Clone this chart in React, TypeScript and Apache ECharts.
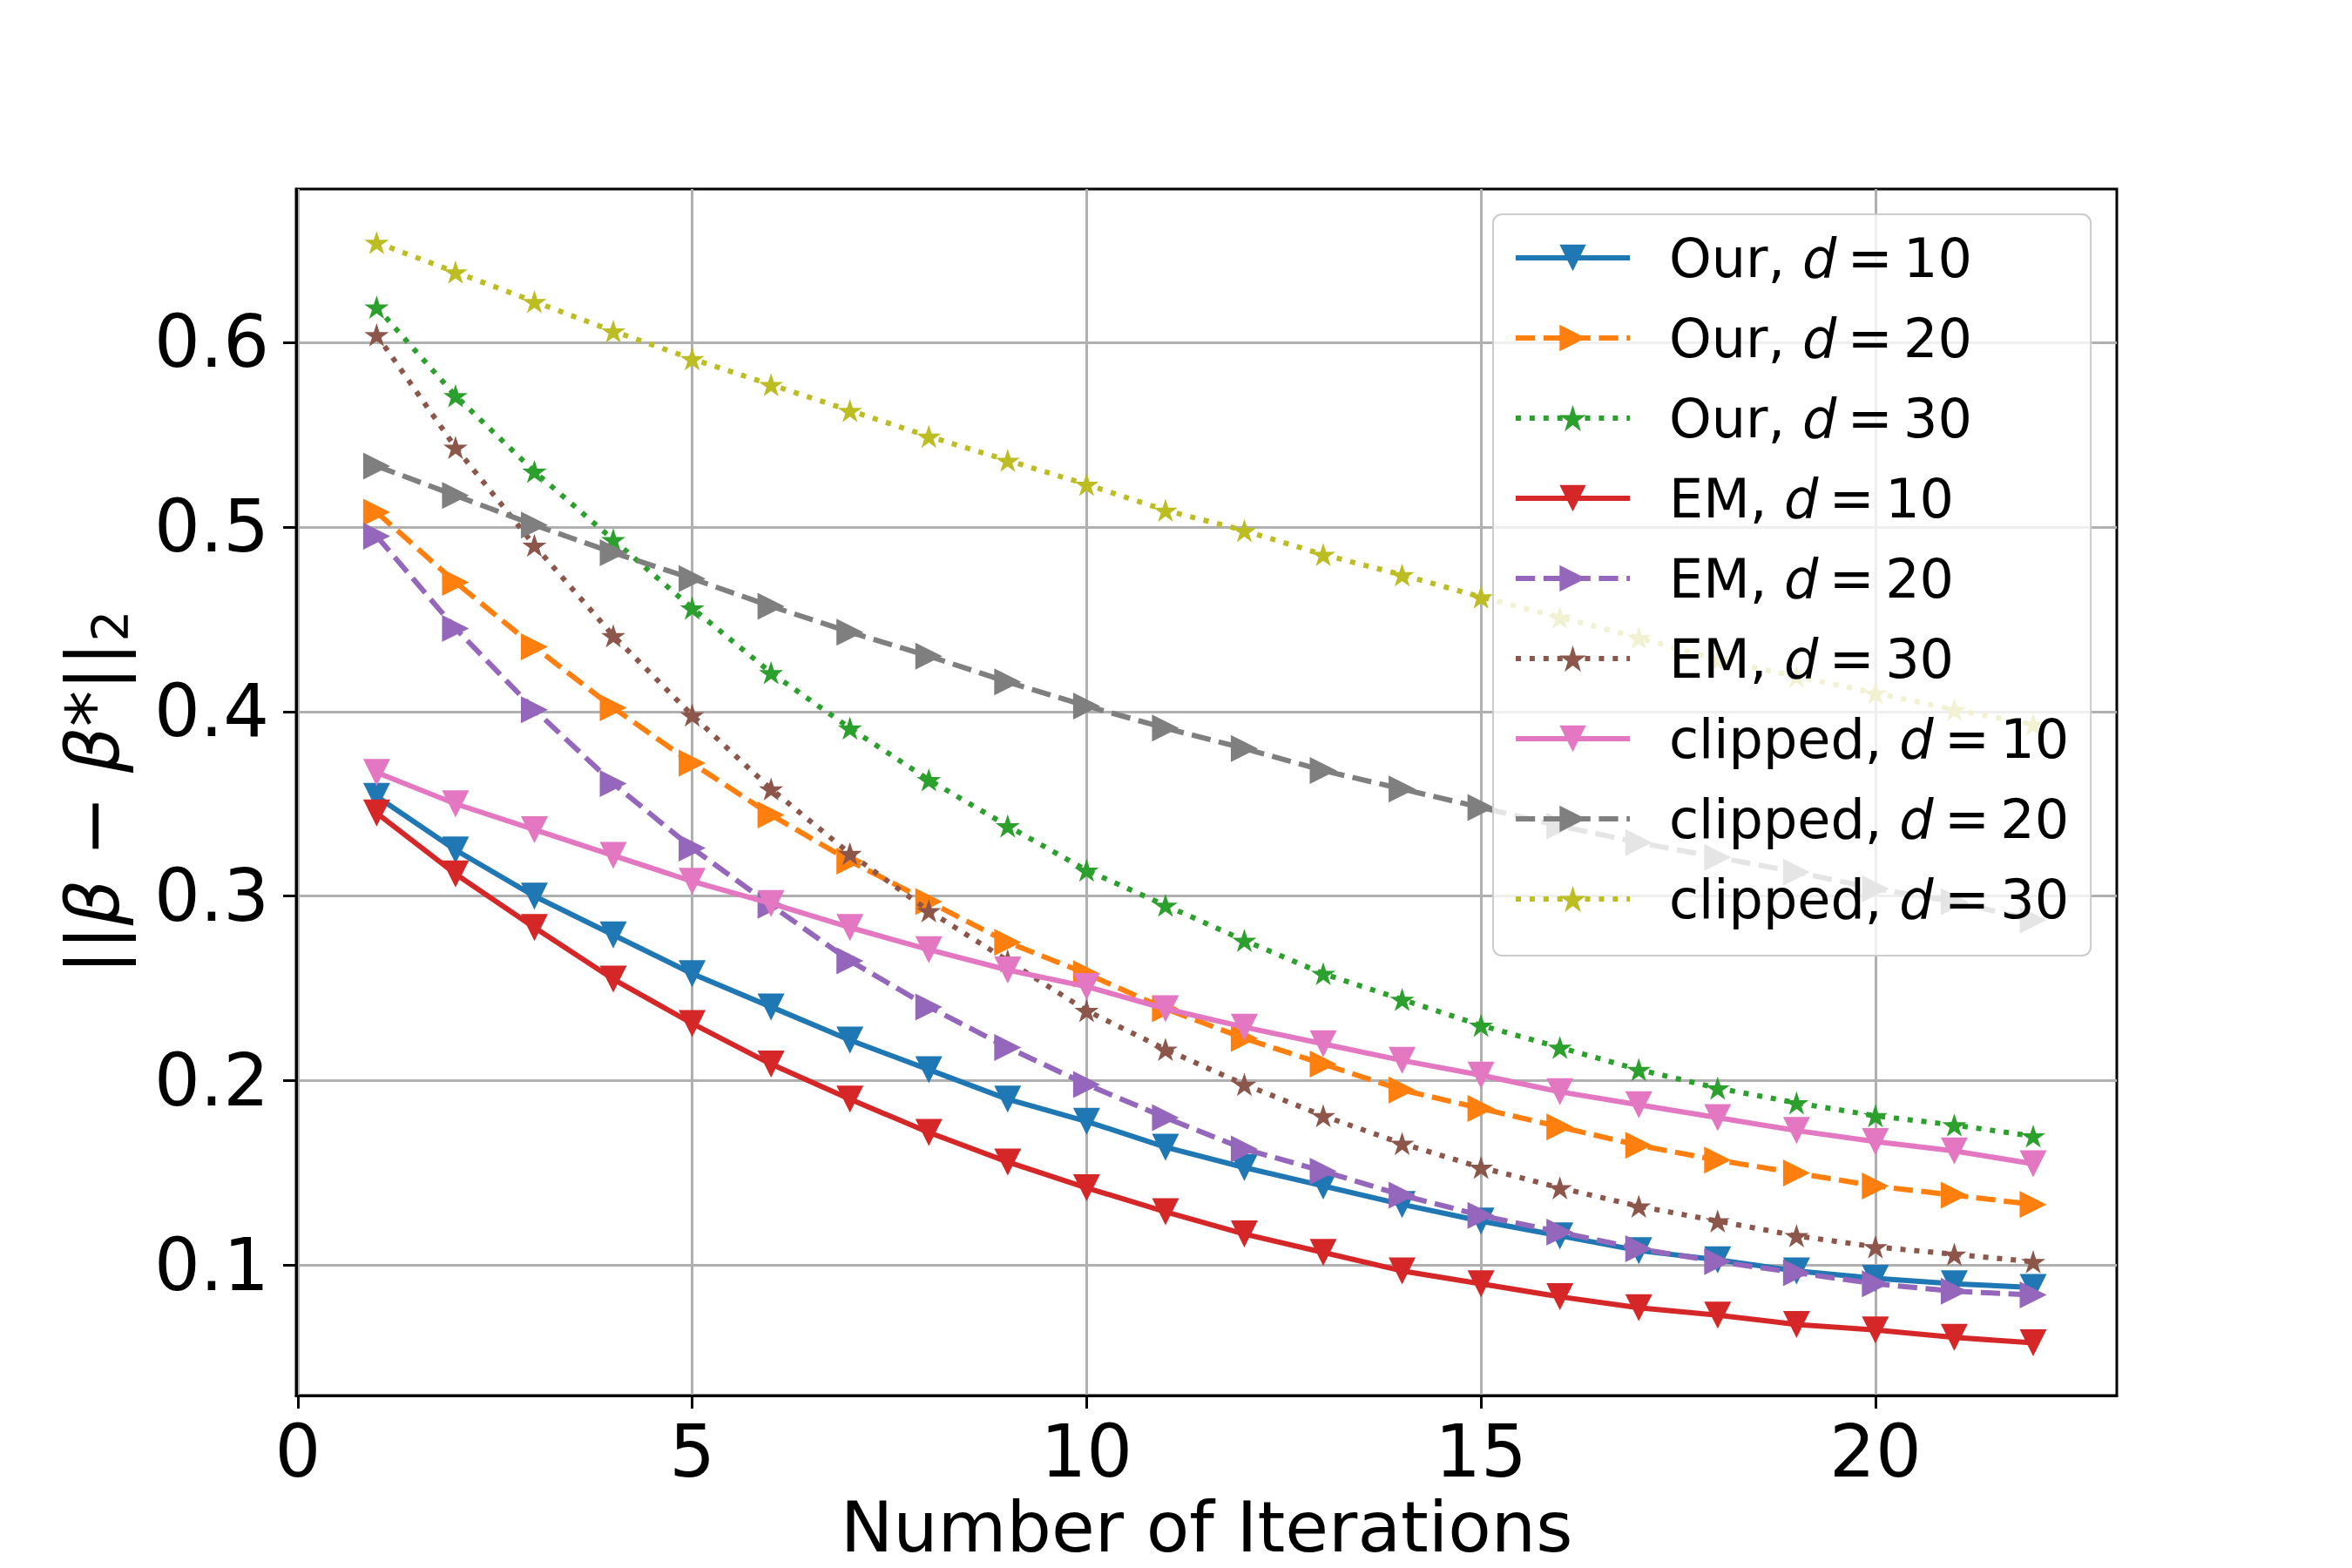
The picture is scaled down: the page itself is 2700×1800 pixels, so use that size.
import React, { useEffect, useRef } from "react";
import * as echarts from "echarts";

const iterations = [1, 2, 3, 4, 5, 6, 7, 8, 9, 10, 11, 12, 13, 14, 15, 16, 17, 18, 19, 20, 21, 22];

const ourD10 = [0.354, 0.325, 0.300, 0.279, 0.258, 0.240, 0.222, 0.206, 0.190, 0.178, 0.164, 0.153, 0.143, 0.133, 0.124, 0.116, 0.108, 0.103, 0.097, 0.093, 0.090, 0.088];
const ourD20 = [0.508, 0.470, 0.435, 0.402, 0.372, 0.344, 0.319, 0.297, 0.275, 0.258, 0.239, 0.223, 0.209, 0.195, 0.185, 0.175, 0.165, 0.157, 0.150, 0.143, 0.138, 0.133];
const ourD30 = [0.619, 0.571, 0.530, 0.493, 0.456, 0.421, 0.391, 0.363, 0.338, 0.314, 0.295, 0.276, 0.258, 0.244, 0.230, 0.218, 0.206, 0.196, 0.188, 0.181, 0.176, 0.170];
const emD10 = [0.345, 0.312, 0.283, 0.255, 0.231, 0.209, 0.190, 0.172, 0.156, 0.142, 0.129, 0.117, 0.107, 0.097, 0.090, 0.083, 0.077, 0.073, 0.068, 0.065, 0.061, 0.058];
const emD20 = [0.495, 0.445, 0.401, 0.361, 0.326, 0.295, 0.265, 0.240, 0.218, 0.198, 0.180, 0.163, 0.151, 0.138, 0.127, 0.118, 0.109, 0.102, 0.096, 0.090, 0.086, 0.084];
const emD30 = [0.604, 0.543, 0.490, 0.441, 0.398, 0.358, 0.323, 0.292, 0.265, 0.238, 0.217, 0.198, 0.181, 0.166, 0.153, 0.142, 0.132, 0.124, 0.116, 0.110, 0.106, 0.102];
const clipD10 = [0.367, 0.350, 0.336, 0.322, 0.308, 0.296, 0.283, 0.271, 0.260, 0.251, 0.239, 0.229, 0.220, 0.211, 0.203, 0.194, 0.187, 0.180, 0.173, 0.167, 0.162, 0.155];
const clipD20 = [0.533, 0.517, 0.501, 0.486, 0.472, 0.457, 0.443, 0.430, 0.416, 0.403, 0.391, 0.380, 0.368, 0.358, 0.348, 0.338, 0.329, 0.321, 0.313, 0.304, 0.297, 0.287];
const clipD30 = [0.654, 0.638, 0.622, 0.606, 0.591, 0.577, 0.563, 0.549, 0.536, 0.523, 0.509, 0.498, 0.485, 0.474, 0.462, 0.451, 0.440, 0.428, 0.419, 0.410, 0.401, 0.393];

const xTicks = [0, 5, 10, 15, 20];
const yTicks = [0.1, 0.2, 0.3, 0.4, 0.5, 0.6];

const FONT = "DejaVu Sans";
const LW = 6;
const DASHED = [22.2, 9.6];
const DOTTED = [6, 9.9];

const starPath = (() => {
  const pts: string[] = [];
  for (let k = 0; k < 10; k++) {
    const r = k % 2 === 0 ? 1 : 0.381966;
    const a = Math.PI / 2 + (k * Math.PI) / 5;
    pts.push(`${(r * Math.cos(a)).toFixed(4)} ${(-r * Math.sin(a)).toFixed(4)}`);
  }
  return "path://M" + pts.join(" L") + " Z";
})();

type Def = { name: string; data: number[]; color: string; marker: "down" | "right" | "star"; dash: "solid" | "dashed" | "dotted" };

const defs: Def[] = [
  { name: "Our, d = 10", data: ourD10, color: "#1f77b4", marker: "down", dash: "solid" },
  { name: "Our, d = 20", data: ourD20, color: "#ff7f0e", marker: "right", dash: "dashed" },
  { name: "Our, d = 30", data: ourD30, color: "#2ca02c", marker: "star", dash: "dotted" },
  { name: "EM, d = 10", data: emD10, color: "#d62728", marker: "down", dash: "solid" },
  { name: "EM, d = 20", data: emD20, color: "#9467bd", marker: "right", dash: "dashed" },
  { name: "EM, d = 30", data: emD30, color: "#8c564b", marker: "star", dash: "dotted" },
  { name: "clipped, d = 10", data: clipD10, color: "#e377c2", marker: "down", dash: "solid" },
  { name: "clipped, d = 20", data: clipD20, color: "#7f7f7f", marker: "right", dash: "dashed" },
  { name: "clipped, d = 30", data: clipD30, color: "#bcbd22", marker: "star", dash: "dotted" },
];

function App() {
  const ref = useRef<HTMLDivElement>(null);
  useEffect(() => {
    if (!ref.current) return;
    const chart = echarts.init(ref.current, null, { renderer: "svg" });
    const series = defs.map((d, idx) => ({
      type: "line",
      name: d.name,
      data: iterations.map((x, i) => [x, d.data[i]]),
      symbol: d.marker === "star" ? starPath : "triangle",
      symbolKeepAspect: d.marker === "star",
      symbolSize: d.marker === "star" ? 28 : 31,
      symbolRotate: d.marker === "down" ? 180 : d.marker === "right" ? -90 : 0,
      showSymbol: true,
      lineStyle: {
        color: d.color,
        width: LW,
        type: d.dash === "solid" ? "solid" : d.dash === "dashed" ? DASHED : DOTTED,
        cap: "butt",
      },
      itemStyle: { color: d.color, borderWidth: 0 },
      emphasis: { disabled: true },
      z: 2 + idx * 0.01,
      zlevel: 0,
    }));
    chart.setOption({
      animation: false,
      backgroundColor: "#ffffff",
      grid: {
        left: 340,
        right: 270,
        top: 217,
        bottom: 198,
        containLabel: false,
        outerBoundsMode: "none",
        show: true,
        borderColor: "#000000",
        borderWidth: 3,
        backgroundColor: "transparent",
      },
      xAxis: {
        type: "value",
        min: -0.02,
        max: 23.06,
        name: "Number of Iterations",
        nameLocation: "middle",
        nameGap: 121,
        nameTextStyle: { fontFamily: FONT, fontSize: 81, color: "#000", lineHeight: 60 },
        axisLine: { show: true, onZero: false, lineStyle: { color: "#000", width: 3 } },
        axisTick: { show: true, length: 15, lineStyle: { color: "#000", width: 3 }, customValues: xTicks },
        axisLabel: { fontFamily: FONT, fontSize: 83, color: "#000", margin: 23, lineHeight: 83, customValues: xTicks },
        splitLine: { show: true, lineStyle: { color: "#b0b0b0", width: 3 } },
      },
      yAxis: {
        type: "value",
        min: 0.0295,
        max: 0.683,
        name: "{n|||}{b|β}{n| − }{b|β}{n|*||}{s|2}",
        nameLocation: "middle",
        nameRotate: 90,
        nameGap: 188,
        nameTextStyle: {
          fontFamily: FONT,
          fontSize: 83,
          color: "#000",
          lineHeight: 90,
          rich: {
            n: { fontFamily: FONT, fontSize: 83, lineHeight: 90, color: "#000" },
            b: { fontFamily: FONT, fontSize: 83, lineHeight: 90, fontStyle: "italic", color: "#000" },
            s: { fontFamily: FONT, fontSize: 57, lineHeight: 50, padding: [40, 0, 0, 0], color: "#000" },
          },
        },
        axisLine: { show: true, onZero: false, lineStyle: { color: "#000", width: 3 } },
        axisTick: { show: true, length: 15, lineStyle: { color: "#000", width: 3 }, customValues: yTicks },
        axisLabel: {
          fontFamily: FONT,
          fontSize: 83,
          color: "#000",
          margin: 31,
          customValues: yTicks,
          formatter: (v: number) => v.toFixed(1),
        },
        splitLine: { show: true, lineStyle: { color: "#b0b0b0", width: 3 } },
      },
      legend: {
        orient: "vertical",
        left: 1714,
        top: 246,
        padding: [15, 25, 30, 23],
        itemWidth: 131,
        itemHeight: 38,
        itemGap: 22,
        selectedMode: false,
        backgroundColor: "rgba(255,255,255,0.8)",
        borderColor: "#cccccc",
        borderWidth: 2,
        borderRadius: 10,
        lineStyle: { width: LW },
        textStyle: {
          fontFamily: FONT,
          fontSize: 62,
          color: "#000",
          lineHeight: 70,
          padding: [0, 0, 0, 40],
          rich: {
            i: { fontFamily: FONT, fontSize: 62, lineHeight: 70, fontStyle: "italic", color: "#000" },
          },
        },
        formatter: (name: string) => {
          const parts = name.split(", d = ");
          return `${parts[0]}, {i|d}\u2009=\u2009${parts[1]}`;
        },
        data: defs.map((d) => d.name),
        z: 10,
      },
      series,
    });
    return () => chart.dispose();
  }, []);
  return (
    <div
      ref={ref}
      style={{ position: "absolute", left: 0, top: 0, width: 2700, height: 1800, background: "#fff" }}
    />
  );
}

export default App;
